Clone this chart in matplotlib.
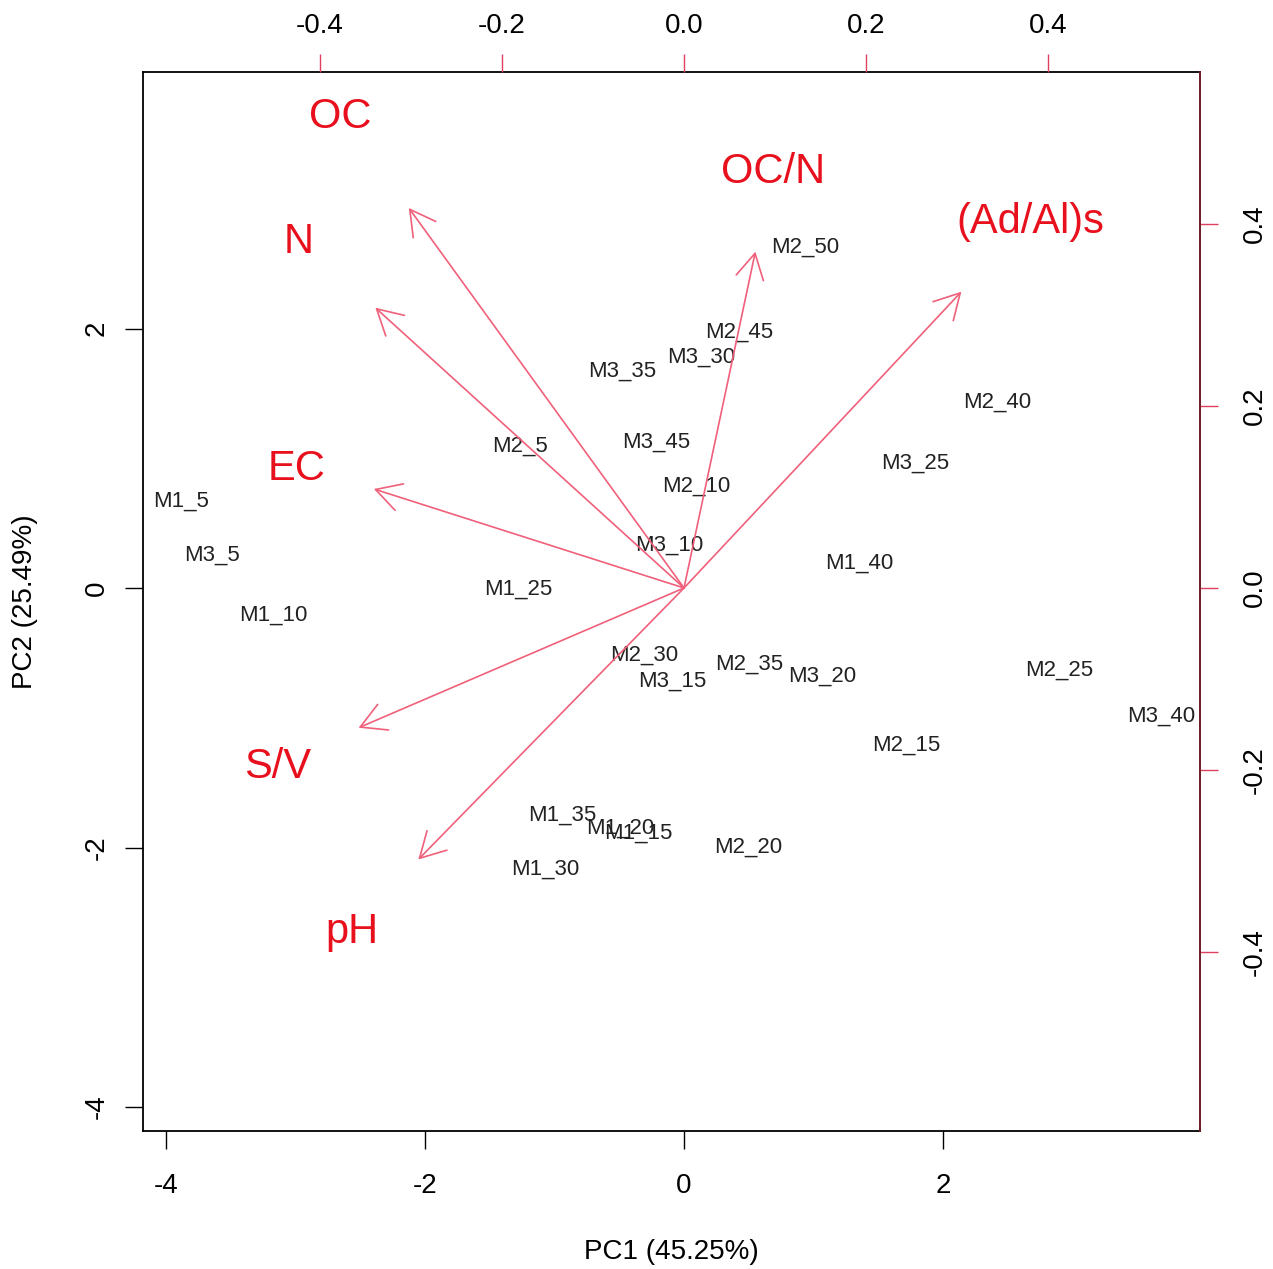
import matplotlib
matplotlib.use("Agg")
import matplotlib.pyplot as plt

plt.rcParams['font.family'] = ['Liberation Sans', 'DejaVu Sans']

# サンプルのスコア (PC1, PC2)
sample_names = ["M2_50", "M2_45", "M3_30", "M3_35", "M2_40", "M2_5", "M3_45", "M3_25",
                "M2_10", "M1_5", "M3_10", "M3_5", "M1_40", "M1_25", "M1_10", "M2_30",
                "M2_35", "M2_25", "M3_20", "M3_15", "M3_40", "M2_15", "M1_35", "M1_20",
                "M1_15", "M2_20", "M1_30"]
pc1 = [0.934, 0.425, 0.131, -0.479, 2.417, -1.266, -0.216, 1.784,
       0.093, -3.884, -0.116, -3.645, 1.351, -1.282, -3.174, -0.309,
       0.502, 2.896, 1.066, -0.093, 3.683, 1.714, -0.942, -0.494,
       -0.355, 0.494, -1.073]
pc2 = [2.644, 1.988, 1.796, 1.688, 1.449, 1.110, 1.141, 0.979,
       0.802, 0.686, 0.347, 0.270, 0.208, 0.008, -0.193, -0.501,
       -0.570, -0.617, -0.663, -0.701, -0.971, -1.195, -1.734, -1.834,
       -1.873, -1.981, -2.150]

# 変数の負荷量 (ラベル位置, 矢印は0.8倍)
var_names = ["OC", "N", "EC", "S/V", "pH", "OC/N", "(Ad/Al)s"]
load1 = [-0.378, -0.424, -0.426, -0.447, -0.365, 0.098, 0.381]
load2 = [0.522, 0.385, 0.136, -0.192, -0.373, 0.462, 0.407]

fig = plt.figure(figsize=(12.73, 12.69), dpi=100)
pos = [143 / 1273, 1 - 1131 / 1269, (1200 - 143) / 1273, (1131 - 72) / 1269]
ax = fig.add_axes(pos)

# サンプル名を描画 (重なりは元の図と同じ)
for name, x, y in zip(sample_names, pc1, pc2):
    ax.text(x, y, name, ha='center', va='center_baseline', fontsize=16, color='#222222')

ax.set_xlim(-4.178, 3.985)
ax.set_ylim(-4.185, 3.977)
ax.set_xticks([-4, -2, 0, 2])
ax.set_yticks([-4, -2, 0, 2])
ax.set_xticklabels(["-4", "-2", "0", "2"])
ax.set_yticklabels(["-4", "-2", "0", "2"], rotation=90, va='center')
ax.tick_params(axis='both', direction='out', length=13, width=1, labelsize=20)
ax.tick_params(axis='x', pad=17)
ax.tick_params(axis='y', pad=11)
ax.set_xlabel("PC1 (45.25%)", fontsize=20, labelpad=29)
ax.set_ylabel("PC2 (25.49%)", fontsize=20, labelpad=33)
for s in ax.spines.values():
    s.set_linewidth(1.3)

# 負荷量用の軸 (上と右)
ax2 = fig.add_axes(pos, facecolor='none')
ax2.set_xlim(-0.5945, 0.567)
ax2.set_ylim(-0.5967, 0.567)
for a, b, name in zip(load1, load2, var_names):
    ax2.annotate('', xy=(0.8 * a, 0.8 * b), xytext=(0, 0),
                 arrowprops=dict(arrowstyle='->,head_length=0.9,head_width=0.5',
                                 color='#f0607a', lw=1.2, shrinkA=0, shrinkB=0,
                                 mutation_scale=20))
    ax2.text(a, b, name, ha='center', va='center_baseline', fontsize=30, color='#e8101c')

ax2.xaxis.tick_top()
ax2.yaxis.tick_right()
ax2.set_xticks([-0.4, -0.2, 0.0, 0.2, 0.4])
ax2.set_yticks([-0.4, -0.2, 0.0, 0.2, 0.4])
ax2.set_xticklabels(["-0.4", "-0.2", "0.0", "0.2", "0.4"])
ax2.set_yticklabels(["-0.4", "-0.2", "0.0", "0.2", "0.4"], rotation=90, va='center')
ax2.tick_params(axis='both', direction='out', length=13, width=1, labelsize=20,
                color='#e04060')
ax2.tick_params(axis='x', pad=11)
ax2.tick_params(axis='y', pad=17)
for k in ['left', 'bottom', 'top']:
    ax2.spines[k].set_visible(False)
ax2.spines['right'].set_color('#7a1f2a')
ax2.spines['right'].set_linewidth(1.3)

fig.savefig("out.png", dpi=100)
